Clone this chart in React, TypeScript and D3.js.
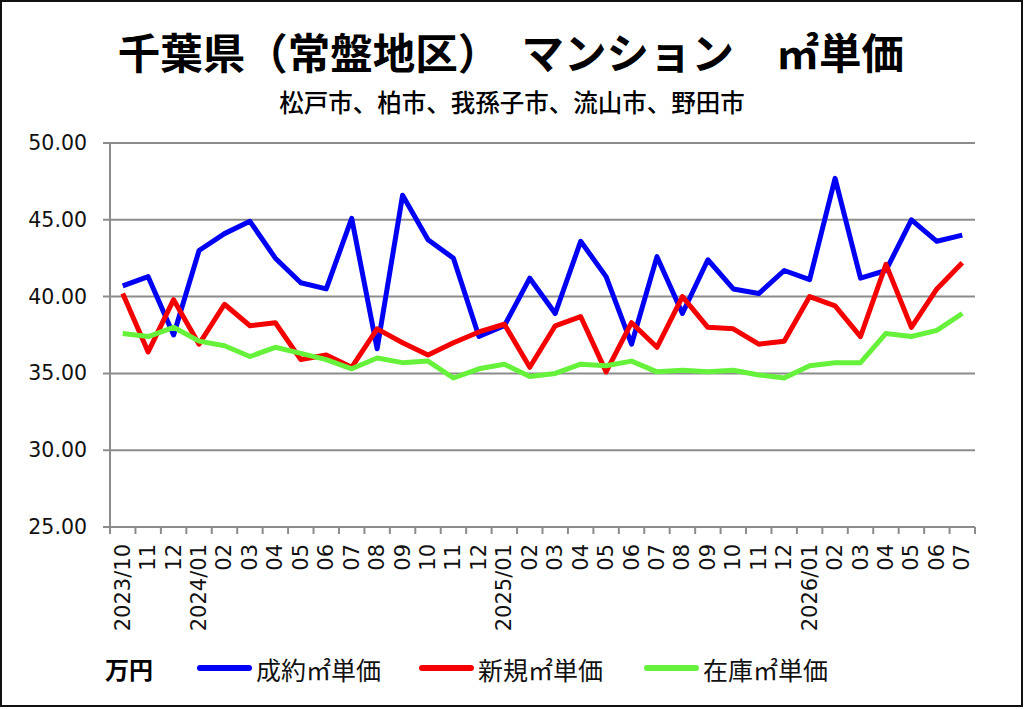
import React, { useEffect, useRef } from "react";
import * as d3 from "d3";

const months = [
  "2023/10", "11", "12",
  "2024/01", "02", "03", "04", "05", "06", "07", "08", "09", "10", "11", "12",
  "2025/01", "02", "03", "04", "05", "06", "07", "08", "09", "10", "11", "12",
  "2026/01", "02", "03", "04", "05", "06", "07",
];

// 成約㎡単価
const contracted = [
  40.7, 41.3, 37.5, 43.0, 44.1, 44.9, 42.5, 40.9, 40.5, 45.1, 36.6, 46.6,
  43.7, 42.5, 37.4, 38.1, 41.2, 38.9, 43.6, 41.3, 36.9, 42.6, 38.9, 42.4,
  40.5, 40.2, 41.7, 41.1, 47.7, 41.2, 41.7, 45.0, 43.6, 44.0,
];

// 新規㎡単価
const newListing = [
  40.2, 36.4, 39.8, 36.9, 39.5, 38.1, 38.3, 35.9, 36.2, 35.4, 37.9, 37.0,
  36.2, 37.0, 37.7, 38.2, 35.4, 38.1, 38.7, 35.1, 38.3, 36.7, 40.0, 38.0,
  37.9, 36.9, 37.1, 40.0, 39.4, 37.4, 42.1, 38.0, 40.5, 42.2,
];

// 在庫㎡単価
const stock = [
  37.6, 37.4, 38.0, 37.1, 36.8, 36.1, 36.7, 36.3, 35.9, 35.3, 36.0, 35.7,
  35.8, 34.7, 35.3, 35.6, 34.8, 35.0, 35.6, 35.5, 35.8, 35.1, 35.2, 35.1,
  35.2, 34.9, 34.7, 35.5, 35.7, 35.7, 37.6, 37.4, 37.8, 38.9,
];

const yTicks = [25, 30, 35, 40, 45, 50];

const series = [
  { name: "成約㎡単価", values: contracted, color: "#0000f5" },
  { name: "新規㎡単価", values: newListing, color: "#f50000" },
  { name: "在庫㎡単価", values: stock, color: "#66f23a" },
];

const W = 1024;
const H = 709;
const JP = "'Noto Sans CJK JP', sans-serif";
const NUM = "'DejaVu Sans', sans-serif";

const App: React.FC = () => {
  const ref = useRef<HTMLDivElement>(null);

  useEffect(() => {
    if (!ref.current) return;
    document.body.style.margin = "0";
    d3.select(ref.current).selectAll("*").remove();

    const svg = d3
      .select(ref.current)
      .append("svg")
      .attr("width", W)
      .attr("height", H)
      .style("display", "block")
      .style("background", "#fff");

    // outer frame
    svg
      .append("rect")
      .attr("x", 1)
      .attr("y", 1)
      .attr("width", W - 3)
      .attr("height", H - 4)
      .attr("fill", "#fff")
      .attr("stroke", "#111")
      .attr("stroke-width", 2);

    const left = 110;
    const right = 975;
    const top = 143;
    const bottom = 527;

    const x = d3.scaleBand<number>().domain(d3.range(months.length)).range([left, right]);
    const y = d3.scaleLinear().domain([25, 50]).range([bottom, top]);
    const cx = (i: number) => (x(i) as number) + x.bandwidth() / 2;

    // title
    svg
      .append("text")
      .attr("x", 511)
      .attr("y", 50)
      .attr("text-anchor", "middle")
      .attr("dominant-baseline", "central")
      .style("font-family", JP)
      .style("font-weight", 700)
      .style("font-size", "42.5px")
      .text("千葉県（常盤地区）　マンション　㎡単価");

    svg
      .append("text")
      .attr("x", 512)
      .attr("y", 101)
      .attr("text-anchor", "middle")
      .attr("dominant-baseline", "central")
      .style("font-family", JP)
      .style("font-weight", 500)
      .style("font-size", "24.5px")
      .text("松戸市、柏市、我孫子市、流山市、野田市");

    // grid lines + y labels
    const grid = svg.append("g");
    yTicks.forEach((t) => {
      grid
        .append("line")
        .attr("x1", left - 7)
        .attr("x2", right)
        .attr("y1", y(t))
        .attr("y2", y(t))
        .attr("stroke", "#8c8c8c")
        .attr("stroke-width", 2);
      grid
        .append("text")
        .attr("x", 87)
        .attr("y", y(t))
        .attr("text-anchor", "end")
        .attr("dominant-baseline", "central")
        .style("font-family", NUM)
        .style("font-size", "20.5px")
        .attr("fill", "#111")
        .text(t.toFixed(2));
    });

    // y axis line
    svg
      .append("line")
      .attr("x1", left)
      .attr("x2", left)
      .attr("y1", top)
      .attr("y2", bottom + 7)
      .attr("stroke", "#8c8c8c")
      .attr("stroke-width", 2);

    // x ticks at band boundaries
    const xg = svg.append("g");
    d3.range(months.length + 1).forEach((k) => {
      const px = left + k * x.step();
      xg.append("line")
        .attr("x1", px)
        .attr("x2", px)
        .attr("y1", bottom)
        .attr("y2", bottom + 7)
        .attr("stroke", "#8c8c8c")
        .attr("stroke-width", 2);
    });

    months.forEach((m, i) => {
      xg.append("text")
        .attr("transform", `translate(${cx(i)},${bottom + 17}) rotate(-90)`)
        .attr("text-anchor", "end")
        .attr("dominant-baseline", "central")
        .style("font-family", NUM)
        .style("font-size", "21px")
        .attr("fill", "#111")
        .text(m);
    });

    // lines
    const line = d3
      .line<number>()
      .x((_, i) => cx(i))
      .y((d) => y(d));

    series.forEach((s) => {
      svg
        .append("path")
        .datum(s.values)
        .attr("d", line)
        .attr("fill", "none")
        .attr("stroke", s.color)
        .attr("stroke-width", 5)
        .attr("stroke-linejoin", "round");
    });

    // legend
    const ly = 668;
    svg
      .append("text")
      .attr("x", 105)
      .attr("y", ly)
      .attr("dominant-baseline", "central")
      .style("font-family", JP)
      .style("font-weight", 700)
      .style("font-size", "24px")
      .text("万円");

    const legendX = [198, 420, 645];
    series.forEach((s, i) => {
      const g = svg.append("g").attr("transform", `translate(${legendX[i]},${ly})`);
      g.append("line")
        .attr("x1", 2)
        .attr("x2", 51)
        .attr("y1", 0)
        .attr("y2", 0)
        .attr("stroke", s.color)
        .attr("stroke-width", 6)
        .attr("stroke-linecap", "round");
      g.append("text")
        .attr("x", 58)
        .attr("y", 1)
        .attr("dominant-baseline", "central")
        .style("font-family", JP)
        .style("font-size", "25px")
        .attr("fill", "#111")
        .text(s.name);
    });
  }, []);

  return <div ref={ref} />;
};

export default App;
